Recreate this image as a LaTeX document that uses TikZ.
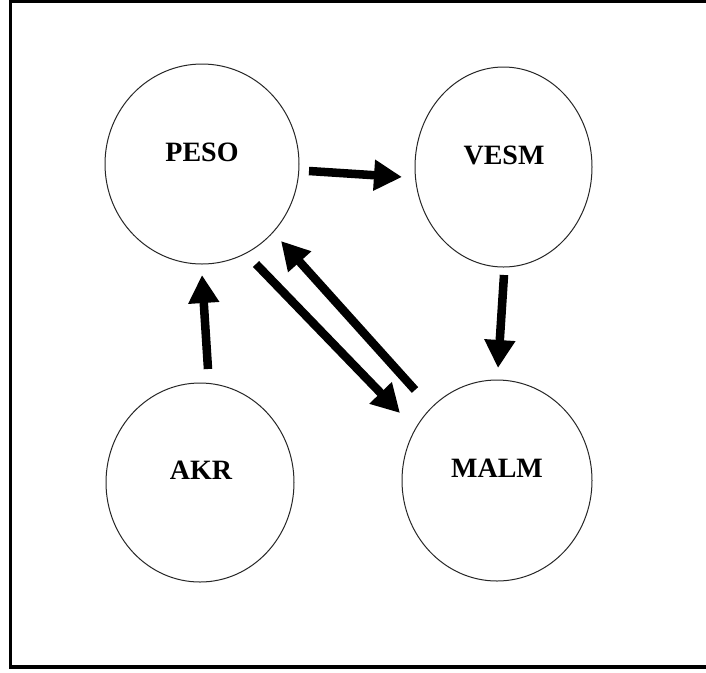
\documentclass[tikz,border=0pt]{standalone}
\usepackage{fontspec}
\setmainfont{Liberation Serif}
\usetikzlibrary{arrows.meta,shapes.geometric}
\begin{document}
\begin{tikzpicture}[x=0.75pt,y=-0.75pt,
  state/.style={draw=black!85,line width=0.75pt,ellipse,inner sep=0pt},
  lbl/.style={font=\fontsize{21pt}{24pt}\selectfont\bfseries,inner sep=0pt},
  flow/.style={line width=6.4pt,-{Triangle[width=22pt,length=21pt]}},
  frame/.style={line width=2.3pt}]
\useasboundingbox (0,0) rectangle (706,672);
\fill[white] (0,0) rectangle (706,672);
\draw[frame] (712,1.6) -- (10.5,1.6) -- (10.5,667) -- (712,667);
% states
\node[state,minimum width=145.5pt,minimum height=150pt] (peso) at (202,164) {};
\node[state,minimum width=132.75pt,minimum height=150pt] (vesm) at (503.5,167) {};
\node[state,minimum width=141pt,minimum height=149.25pt] (akr) at (200,482.5) {};
\node[state,minimum width=142.5pt,minimum height=150.75pt] (malm) at (497,480.5) {};
% labels
\node[lbl] (pesot) at (202,152) {PESO};
\node[lbl] (vesmt) at (504,155.5) {VESM};
\node[lbl] (akrt) at (201,470.5) {AKR};
\node[lbl] (malmt) at (497,468.5) {MALM};
% arrow ends
\coordinate (pv1) at (309,171);
\coordinate (pv2) at (402,177);
\coordinate (ap1) at (208,369);
\coordinate (ap2) at (202,275);
\coordinate (vm1) at (504,275);
\coordinate (vm2) at (498,368);
\coordinate (pm1) at (256,264);
\coordinate (pm2) at (400,413);
\coordinate (mp1) at (415,390);
\coordinate (mp2) at (281,241);
% connectors
\draw[flow] (pv1) -- (pv2);
\draw[flow] (ap1) -- (ap2);
\draw[flow] (vm1) -- (vm2);
\draw[flow] (pm1) -- (pm2);
\draw[flow] (mp1) -- (mp2);
\end{tikzpicture}
\end{document}
